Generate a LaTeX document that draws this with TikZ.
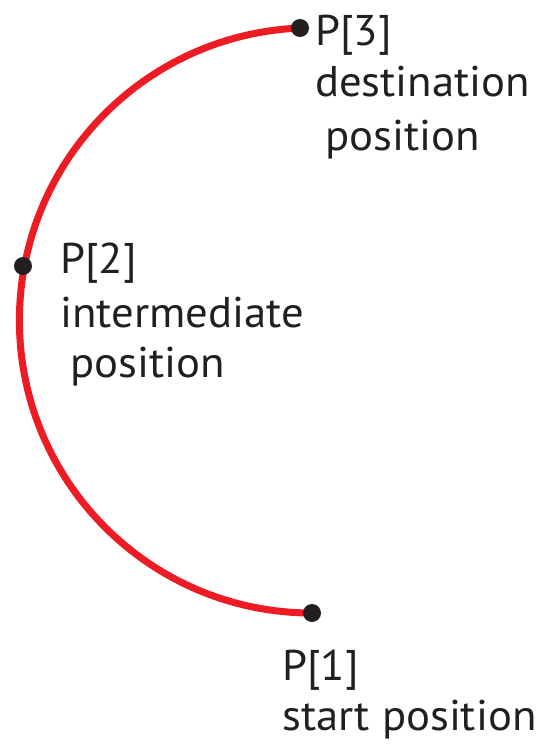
\documentclass[tikz,border=0pt]{standalone}
\usepackage{fontspec}
\setmainfont{PT Sans}[FakeStretch=1.04]
\definecolor{arcred}{HTML}{ED1C24}
\definecolor{dotblack}{HTML}{231F20}
\begin{document}
\begin{tikzpicture}[x=1pt,y=-1pt,
  arcline/.style={draw=arcred,line width=7pt},
  dot/.style={circle,fill=dotblack,inner sep=0pt,minimum size=18pt},
  lbl/.style={anchor=base west,inner sep=0pt,text=dotblack,font=\fontsize{43}{50}\selectfont}]
\useasboundingbox (0,0) rectangle (550,745);
\coordinate (c1) at (312,613);
\coordinate (c2) at (23,266);
\coordinate (c3) at (300,28);
\draw[arcline] (c1) arc[start angle=90, end angle=267.75, radius=292.6];
\node[dot] (p1) at (c1) {};
\node[dot] (p2) at (c2) {};
\node[dot] (p3) at (c3) {};
\node[lbl] (t3a) at (315,45) {P[3]};
\node[lbl] (t3b) at (315,96) {destination};
\node[lbl] (t3c) at (325,150) {position};
\node[lbl] (t2a) at (60,273) {P[2]};
\node[lbl] (t2b) at (60,327) {intermediate};
\node[lbl] (t2c) at (70,377) {position};
\node[lbl] (t1a) at (282,680) {P[1]};
\node[lbl] (t1b) at (282,730) {start position};
\end{tikzpicture}
\end{document}
